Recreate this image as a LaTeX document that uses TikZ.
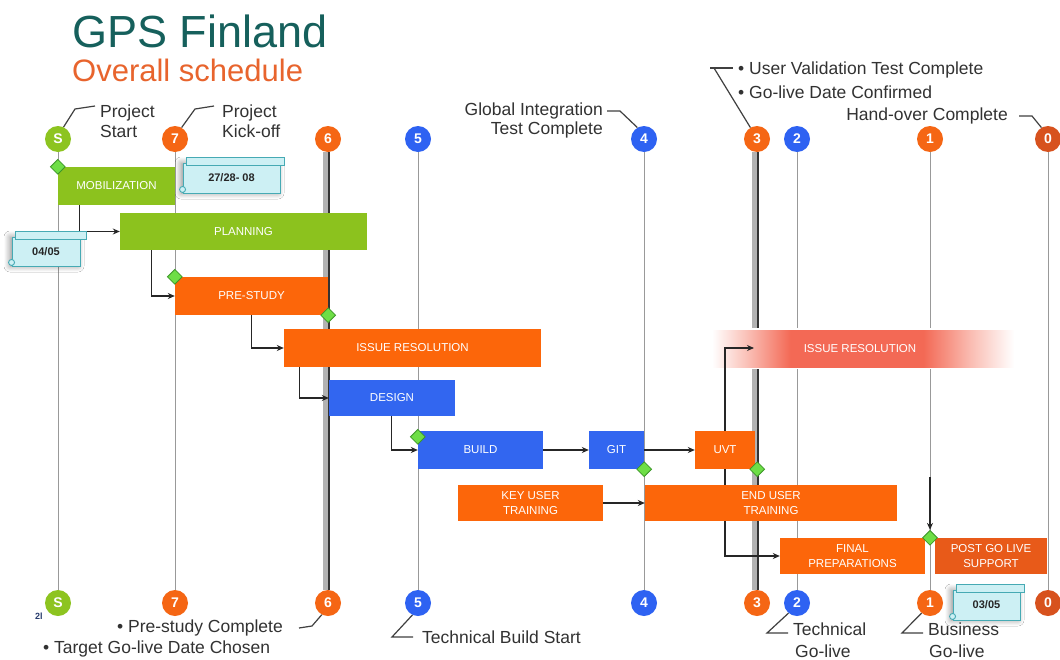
\documentclass[tikz,border=0pt]{standalone}
\usepackage{fontspec}
\setmainfont{Liberation Sans}
\usetikzlibrary{shapes.geometric,calc,shadows.blur,arrows.meta}
\definecolor{gGreen}{RGB}{141,196,32}
\definecolor{boxGreen}{RGB}{140,194,30}
\definecolor{oOrange}{RGB}{245,102,20}
\definecolor{boxOrange}{RGB}{252,102,10}
\definecolor{bBlue}{RGB}{46,98,242}
\definecolor{boxBlue}{RGB}{50,102,240}
\definecolor{zeroRed}{RGB}{215,82,30}
\definecolor{postOrange}{RGB}{232,90,25}
\definecolor{diaGreen}{RGB}{110,222,70}
\definecolor{diaBorder}{RGB}{60,150,40}
\definecolor{noteFill}{RGB}{205,240,244}
\definecolor{noteLine}{RGB}{70,170,180}
\definecolor{titleTeal}{RGB}{22,96,92}
\definecolor{subOrange}{RGB}{232,100,45}
\definecolor{labGray}{RGB}{50,50,50}
\definecolor{issFade}{RGB}{243,105,85}
\definecolor{issLight}{RGB}{250,190,180}
\definecolor{pageBlue}{RGB}{40,60,110}
\pgfdeclarehorizontalshading{issband}{100bp}{color(0bp)=(white); color(25bp)=(white); color(31bp)=(issLight); color(38bp)=(issFade); color(60bp)=(issFade); color(68bp)=(issLight); color(75bp)=(white); color(100bp)=(white)}
\begin{document}
\begin{tikzpicture}[x=1pt,y=-1pt,
 ms/.style={circle,minimum size=26pt,inner sep=0pt,font=\fontsize{14}{14}\selectfont\bfseries,text=white},
 vline/.style={draw=black!40,line width=0.9pt},
 shadeline/.style={draw=black!30,line width=6pt},
 darkline/.style={draw=black!80,line width=2.2pt},
 task/.style={rectangle,inner sep=0pt,text=white,align=center,font=\fontsize{11.5}{14.5}\selectfont},
 conn/.style={draw=black!85,line width=1.1pt,-{Stealth[length=7pt,width=6pt]}},
 dia/.style={diamond,fill=diaGreen,draw=diaBorder,line width=0.8pt,minimum width=15pt,minimum height=15pt,inner sep=0pt},
 lab/.style={font=\fontsize{17.5}{20}\selectfont,text=labGray,inner sep=0pt},
 leader/.style={draw=black!75,line width=1.2pt},
 note/.style={rectangle,fill=noteFill,draw=noteLine,line width=0.9pt,inner sep=0pt,
   font=\fontsize{11}{11}\selectfont\bfseries,text=black!85,
   blur shadow={shadow xshift=-2pt,shadow yshift=0pt,shadow blur radius=6pt,shadow blur steps=8,shadow opacity=45}},
 noteroll/.style={fill=noteFill,draw=noteLine,line width=0.9pt}
]
\useasboundingbox[fill=white] (0,0) rectangle (1060,659);

% title
\node[anchor=base west,inner sep=0pt,font=\fontsize{45}{45}\selectfont,text=titleTeal] (title) at (72,47) {GPS Finland};
\node[anchor=base west,inner sep=0pt,font=\fontsize{31}{31}\selectfont,text=subOrange] (sub) at (72,81) {Overall schedule};

% milestone circles
\node[ms,fill=gGreen] (tS) at (58,139) {S};
\node[ms,fill=oOrange] (t7) at (175,139) {7};
\node[ms,fill=oOrange] (t6) at (328,139) {6};
\node[ms,fill=bBlue] (t5) at (418,139) {5};
\node[ms,fill=bBlue] (t4) at (644,139) {4};
\node[ms,fill=oOrange] (t3) at (757,139) {3};
\node[ms,fill=bBlue] (t2) at (797,139) {2};
\node[ms,fill=oOrange] (t1) at (930,139) {1};
\node[ms,fill=zeroRed] (t0) at (1048,139) {0};
\node[ms,fill=gGreen] (bS) at (58,603) {S};
\node[ms,fill=oOrange] (b7) at (175,603) {7};
\node[ms,fill=oOrange] (b6) at (328,603) {6};
\node[ms,fill=bBlue] (b5) at (418,603) {5};
\node[ms,fill=bBlue] (b4) at (644,603) {4};
\node[ms,fill=oOrange] (b3) at (757,603) {3};
\node[ms,fill=bBlue] (b2) at (797,603) {2};
\node[ms,fill=oOrange] (b1) at (930,603) {1};
\node[ms,fill=zeroRed] (b0) at (1048,603) {0};

% vertical lines
\foreach \n in {S,7,5,4,2,1,0} \draw[vline] (t\n) -- (b\n);
\foreach \n in {6,3} {
  \draw[shadeline] ([xshift=-2pt]t\n.south) -- ([xshift=-2pt]b\n.north);
  \draw[darkline] ([xshift=1pt]t\n.south) -- ([xshift=1pt]b\n.north);
}

% faded issue resolution band
\fill[white] (712,328) rectangle (1014,369);
\shade[shading=issband] (712,330) rectangle (1014,367);
\node[task] (ISS2) at (860,348.5) {ISSUE RESOLUTION};
\coordinate (iss2in) at (754,348);

% task boxes
\node[task,fill=boxOrange,minimum width=145pt,minimum height=36pt] (FIN) at (852.5,556) {FINAL\\PREPARATIONS};
\node[task,minimum width=60pt,minimum height=38pt,fill=boxOrange] (UVT) at (725,450) {UVT};
\draw[conn] (UVT.south) |- (FIN.west);
\node[task,fill=boxGreen,minimum width=117pt,minimum height=38pt] (MOB) at (116.5,186) {MOBILIZATION};
\node[task,fill=boxGreen,minimum width=247pt,minimum height=37pt] (PLAN) at (243.5,231.5) {PLANNING};
\node[task,fill=boxOrange,minimum width=153pt,minimum height=38pt] (PRE) at (251.5,296) {PRE-STUDY};
\node[task,fill=boxOrange,minimum width=257pt,minimum height=38pt] (ISS) at (412.5,348) {ISSUE RESOLUTION};
\node[task,fill=boxBlue,minimum width=126pt,minimum height=36pt] (DES) at (392,398) {DESIGN};
\node[task,fill=boxBlue,minimum width=125pt,minimum height=38pt] (BUILD) at (480.5,450) {BUILD};
\node[task,fill=boxBlue,minimum width=55pt,minimum height=38pt] (GIT) at (616.5,450) {GIT};
\node[task,fill=boxOrange,minimum width=145pt,minimum height=36pt] (KEY) at (530.5,503) {KEY USER\\TRAINING};
\node[task,fill=boxOrange,minimum width=252pt,minimum height=36pt] (END) at (771,503) {END USER\\TRAINING};
\node[task,fill=postOrange,minimum width=112pt,minimum height=36pt] (POST) at (991,556) {POST GO LIVE\\SUPPORT};

% connectors
\draw[conn] ($(MOB.south west)+(22,0)$) |- (PLAN.west);
\draw[conn] ($(PLAN.south west)+(32,0)$) |- (PRE.west);
\draw[conn] ($(PRE.south west)+(77,0)$) |- (ISS.west);
\draw[conn] ($(ISS.south west)+(16,0)$) |- (DES.west);
\draw[conn] ($(DES.south west)+(63,0)$) |- (BUILD.west);
\draw[conn] (BUILD.east) -- (GIT.west);
\draw[conn] (GIT.east) -- (UVT.west);
\draw[conn] (UVT.north) |- (iss2in);
\draw[conn] (KEY.east) -- (END.west);

% diamonds
\node[dia] (dS) at (MOB.north west) {};
\node[dia] (d7) at (PRE.north west) {};
\node[dia] (d6) at (PRE.south east) {};
\node[dia] (d5) at ($(BUILD.north west)+(0,6)$) {};
\node[dia] (d4) at (GIT.south east) {};
\node[dia] (d3) at ($(UVT.south east)+(2,0)$) {};
\node[dia] (d1) at (t1 |- FIN.north) {};
\coordinate (a1) at (930,477);
\draw[conn] (a1) -- (d1.north);

% notes
\node[note,minimum width=97pt,minimum height=30pt] (n1) at (231.5,178) {27/28-\ 08};
\draw[noteroll] ($(n1.north west)+(4,-5)$) rectangle ($(n1.north east)+(4,3)$);
\draw[noteroll] ($(n1.south west)+(0,-4)$) circle (3pt);
\node[note,minimum width=68pt,minimum height=29pt] (n2) at (46,251.5) {04/05};
\draw[noteroll] ($(n2.north west)+(4,-5)$) rectangle ($(n2.north east)+(6,3)$);
\draw[noteroll] ($(n2.south west)+(0,-4)$) circle (3pt);
\node[note,minimum width=67pt,minimum height=30pt] (n3) at (986.5,605) {03/05};
\draw[noteroll] ($(n3.north west)+(4,-5)$) rectangle ($(n3.north east)+(4,3)$);
\draw[noteroll] ($(n3.south west)+(0,-4)$) circle (3pt);

% top labels
\node[lab,anchor=base west] (lS1) at (100,117) {Project};
\node[lab,anchor=base west] (lS2) at (100,137) {Start};
\node[lab,anchor=base west] (lK1) at (222,117) {Project};
\node[lab,anchor=base west] (lK2) at (222,137) {Kick-off};
\node[lab,anchor=base east] (lG1) at (603,115) {Global Integration};
\node[lab,anchor=base east] (lG2) at (603,134) {Test Complete};
\node[lab,anchor=base west] (lU1) at (738,74) {• User Validation Test Complete};
\node[lab,anchor=base west] (lU2) at (738,98) {• Go-live Date Confirmed};
\node[lab,anchor=base east] (lH) at (1008,120) {Hand-over Complete};

% bottom labels
\node[anchor=base west,inner sep=0pt,font=\fontsize{9}{9}\selectfont\bfseries,text=pageBlue] (pg) at (35,619) {2l};
\node[lab,anchor=base west] (lP1) at (117,632) {• Pre-study Complete};
\node[lab,anchor=base west] (lP2) at (43,653) {• Target Go-live Date Chosen};
\node[lab,anchor=base west] (lTB) at (422,643) {Technical Build Start};
\node[lab,anchor=base west] (lTG1) at (793,635) {Technical};
\node[lab,anchor=base west] (lTG2) at (795,657) {Go-live};
\node[lab,anchor=base west] (lBG1) at (928,635) {Business};
\node[lab,anchor=base west] (lBG2) at (929,657) {Go-live};

% leaders
\draw[leader] (tS.65) -- (75,109) -- (95,106);
\draw[leader] (t7.60) -- (195,109) -- (214,106);
\draw[leader] (607,111) -- (620,111) -- (t4.120);
\draw[leader] (710,68) -- (733,68);
\draw[leader] (714,68) -- (t3.120);
\draw[leader] (1019,116) -- (1032,116) -- (t0.120);
\draw[leader] (299,628) -- (312,626) -- (b6.-118);
\draw[leader] (b5.-115) -- (392,637) -- (413,637);
\draw[leader] (b2.-130) -- (767,633) -- (788,633);
\draw[leader] (b1.-130) -- (902,633) -- (923,633);
\end{tikzpicture}
\end{document}
